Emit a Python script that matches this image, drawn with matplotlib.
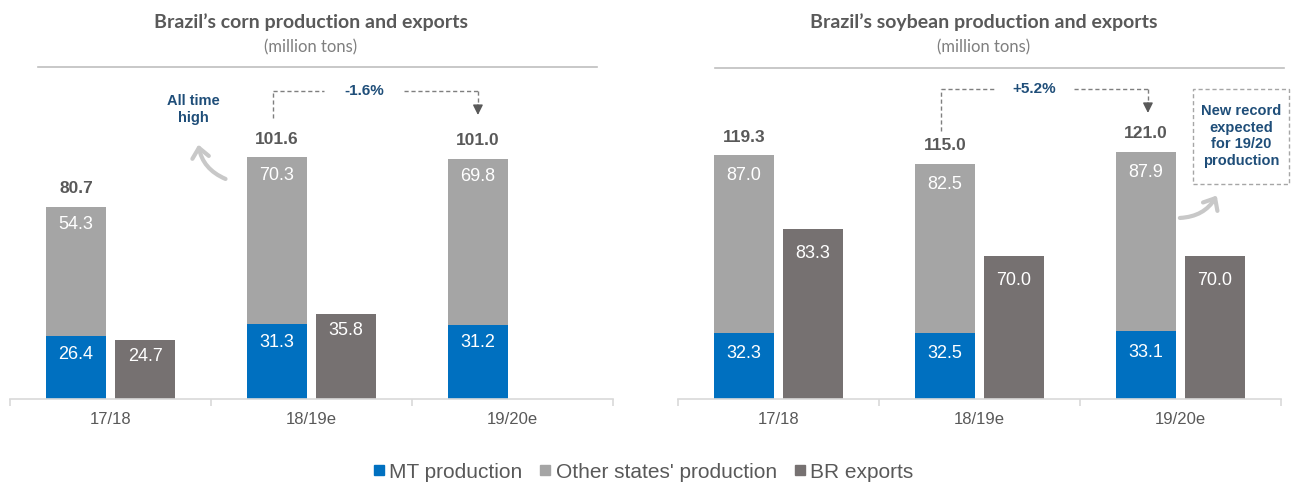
import matplotlib
matplotlib.use('Agg')
import matplotlib.pyplot as plt
from matplotlib.lines import Line2D
from matplotlib.patches import FancyArrowPatch, Rectangle
import numpy as np

# ---------------- data ----------------
categories = ['17/18', '18/19e', '19/20e']
corn_mt = [26.4, 31.3, 31.2]
corn_other = [54.3, 70.3, 69.8]
corn_exports = [24.7, 35.8, np.nan]
soy_mt = [32.3, 32.5, 33.1]
soy_other = [87.0, 82.5, 87.9]
soy_exports = [83.3, 70.0, 70.0]
corn_change = '-1.6%'
soy_change = '+5.2%'
series_names = ['MT production', "Other states' production", 'BR exports']

# ---------------- style ----------------
BLUE = '#0070C0'
LGRAY = '#A5A5A5'
DGRAY = '#767171'
TXT = '#595959'
NAVY = '#1F4E79'
AXC = '#D9D9D9'
FONT = 'Liberation Sans'
TFONT = 'Lato'

W, H = 1292, 483
fig = plt.figure(figsize=(W / 100, H / 100), dpi=100)


def px_axes(x0, x1, ybot, ytop):
    return fig.add_axes([x0 / W, 1 - ybot / H, (x1 - x0) / W, (ybot - ytop) / H])


axL = px_axes(10, 613, 399, 70)
axR = px_axes(678, 1281, 399, 70)

OFF = 0.172
BW = 0.295


def draw(ax, mt, other, exports, ymax, lab_off, exp_off):
    x = np.arange(len(categories))
    mt = np.array(mt, float)
    other = np.array(other, float)
    exports = np.array(exports, float)
    ax.bar(x - OFF, mt, BW, color=BLUE, linewidth=0)
    ax.bar(x - OFF, other, BW, bottom=mt, color=LGRAY, linewidth=0)
    ok = ~np.isnan(exports)
    ax.bar(x[ok] + OFF, exports[ok], BW, color=DGRAY, linewidth=0)
    for xi, m, o in zip(x, mt, other):
        ax.annotate(f'{m:.1f}', (xi - OFF, m), xytext=(0, lab_off), textcoords='offset points',
                    ha='center', va='center', color='white', fontsize=13, family=FONT)
        ax.annotate(f'{o:.1f}', (xi - OFF, m + o), xytext=(0, lab_off), textcoords='offset points',
                    ha='center', va='center', color='white', fontsize=13, family=FONT)
        ax.annotate(f'{m + o:.1f}', (xi - OFF, m + o), xytext=(0, 13), textcoords='offset points',
                    ha='center', va='center', color=TXT, fontsize=12.5, fontweight='bold', family=FONT)
    for xi, e in zip(x[ok], exports[ok]):
        ax.annotate(f'{e:.1f}', (xi + OFF, e), xytext=(0, exp_off), textcoords='offset points',
                    ha='center', va='center', color='white', fontsize=13, family=FONT)
    ax.set_xlim(-0.5, len(categories) - 0.5)
    ax.set_ylim(0, ymax)
    for s in ['top', 'left', 'right']:
        ax.spines[s].set_visible(False)
    ax.spines['bottom'].set_color(AXC)
    ax.spines['bottom'].set_linewidth(1.2)
    ax.set_yticks([])
    ax.set_xticks(x)
    ax.set_xticklabels(categories, fontsize=12, color=TXT, family=FONT)
    ax.tick_params(axis='x', which='major', length=0, pad=9)
    ax.set_xticks(np.arange(len(categories) + 1) - 0.5, minor=True)
    ax.tick_params(axis='x', which='minor', length=5, color=AXC, width=1.2)


draw(axL, corn_mt, corn_other, corn_exports, 138.2, -13, -12)
draw(axR, soy_mt, soy_other, soy_exports, 160.9, -15, -18)


def bracket(ax, x0, x1, ybr, ybot, tip, head, text, tx, gap=0.2):
    kw = dict(color='#7F7F7F', lw=1, ls=(0, (3, 2)), clip_on=False)
    ax.plot([x0, x0], [ybot, ybr], **kw)
    ax.plot([x0, tx - gap], [ybr, ybr], **kw)
    ax.plot([tx + gap, x1], [ybr, ybr], **kw)
    ax.plot([x1, x1], [ybr, tip + head], **kw)
    ax.annotate('', xy=(x1, tip), xytext=(x1, tip + head),
                arrowprops=dict(arrowstyle='-|>,head_length=0.6,head_width=0.3', color='#595959',
                                lw=1, shrinkA=0, shrinkB=0), annotation_clip=False)
    ax.text(tx, ybr, text, ha='center', va='center', color=NAVY, fontsize=11,
            fontweight='bold', family=FONT)


bracket(axL, 0.81, 1.828, 129.4, 118.1, 119.3, 4.2, corn_change, 1.26)
bracket(axR, 0.808, 1.838, 151.6, 131.1, 139.9, 4.9, soy_change, 1.271)

# "All time high" note with curved arrow
axL.text(0.41, 121.5, 'All time\nhigh', ha='center', va='center', color=NAVY, fontsize=10.5,
         fontweight='bold', family=FONT, linespacing=1.25)
axL.add_patch(FancyArrowPatch(posA=(0.585, 92.0), posB=(0.435, 108.0),
                              connectionstyle='arc3,rad=-0.3',
                              arrowstyle='->,head_length=7,head_width=6',
                              color='#C8C8C8', lw=3, clip_on=False))

# "New record" note box with curved arrow
axR.add_patch(Rectangle((2.062, 105.1), 0.478, 46.5, fill=False, ls=(0, (3, 2)),
                        ec='#A6A6A6', lw=1, clip_on=False))
axR.text(2.30, 128.6, 'New record\nexpected\nfor 19/20\nproduction', ha='center', va='center',
         color=NAVY, fontsize=10.5, fontweight='bold', family=FONT, linespacing=1.25)
axR.add_patch(FancyArrowPatch(posA=(1.983, 88.5), posB=(2.187, 100.7),
                              connectionstyle='arc3,rad=0.3',
                              arrowstyle='->,head_length=7,head_width=6',
                              color='#C8C8C8', lw=3, clip_on=False))

# titles
for cx, title in [(311, 'Brazil\u2019s corn production and exports'),
                  (984, 'Brazil\u2019s soybean production and exports')]:
    fig.text(cx / W, 1 - 22 / H, title, ha='center', va='center', fontsize=14,
             fontweight='bold', color=TXT, family=TFONT)
    fig.text(cx / W, 1 - 47 / H, '(million tons)', ha='center', va='center', fontsize=12,
             color='#7F7F7F', family=TFONT)
fig.add_artist(Line2D([38 / W, 597 / W], [1 - 67 / H] * 2, color='#BFBFBF', lw=1.2))
fig.add_artist(Line2D([715 / W, 1284 / W], [1 - 68 / H] * 2, color='#BFBFBF', lw=1.2))

# legend
handles = [Line2D([], [], marker='s', ls='', color=c, markersize=7) for c in (BLUE, LGRAY, DGRAY)]
fig.legend(handles, series_names, loc='center', bbox_to_anchor=(643 / W, 1 - 472 / H), ncol=3,
           frameon=False, prop=dict(family=FONT, size=15), labelcolor=TXT,
           handletextpad=0.2, columnspacing=0.8, handlelength=0.6, borderpad=0)

fig.savefig('out.png', dpi=100)
